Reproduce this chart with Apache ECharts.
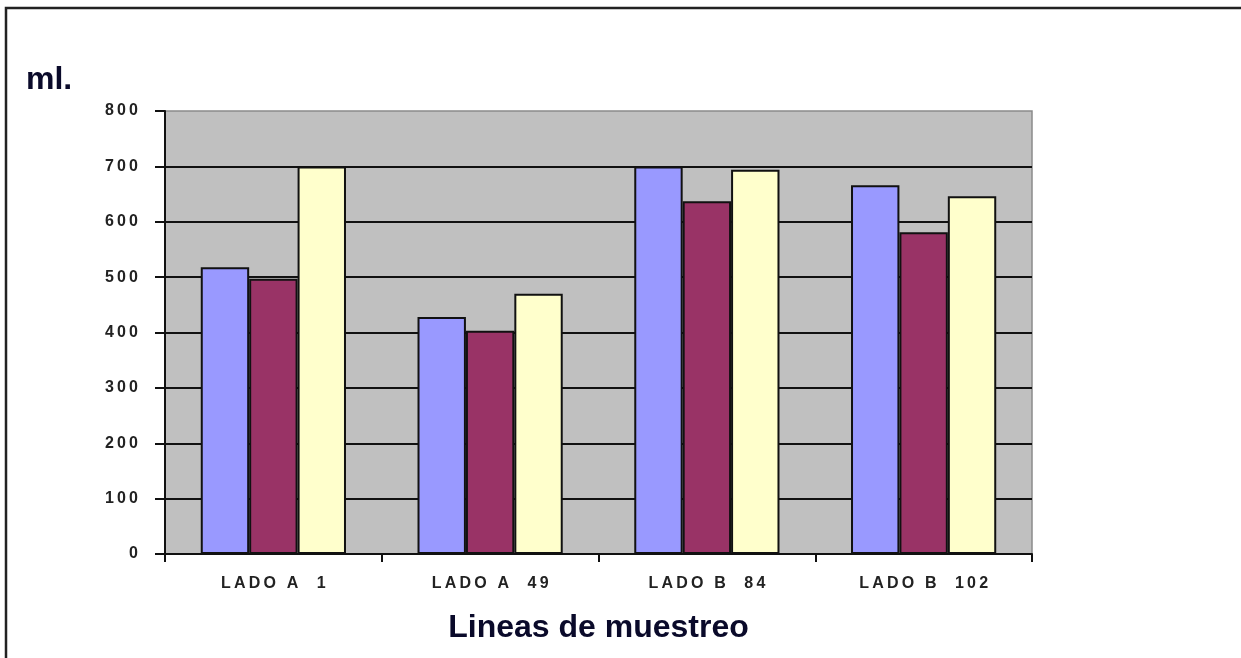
<!DOCTYPE html>
<html>
<head>
<meta charset="utf-8">
<script src="https://cdn.jsdelivr.net/npm/echarts@6/dist/echarts.min.js"></script>
<style>
  html, body { margin: 0; padding: 0; background: #ffffff; }
  #chart { width: 1241px; height: 658px; }
</style>
</head>
<body>
<div id="chart"></div>
<script>
// Sampling lines and measured volumes (ml.)
const categories = ['LADO A  1', 'LADO A  49', 'LADO B  84', 'LADO B  102'];
const serieBlue   = [518, 428, 700, 666];
const serieMaroon = [497, 403, 637, 581];
const serieYellow = [700, 470, 694, 646];
const yTicks = { min: 0, max: 800, interval: 100 };

const FONT = 'Arial, "Liberation Sans", sans-serif';
// widen glyph spacing the way the small chart font is drawn
const spaced = s => String(s).split('').join('\u2009');

const barBorder = { borderColor: '#111111', borderWidth: 2 };

const chart = echarts.init(document.getElementById('chart'), null, { renderer: 'canvas' });
chart.setOption({
  backgroundColor: '#ffffff',
  animation: false,
  title: {
    text: 'ml.',
    left: 21,
    top: 59,
    textStyle: { fontFamily: FONT, fontSize: 32, fontWeight: 'bold', color: '#0a0a2a' }
  },
  graphic: [{
    type: 'rect',
    shape: { x: 6, y: 8, width: 1300, height: 700 },
    style: { fill: 'none', stroke: '#222222', lineWidth: 2.5 },
    z: 100
  }],
  grid: {
    left: 165, right: 209, top: 111, bottom: 104,
    show: true,
    backgroundColor: '#C0C0C0',
    borderColor: '#8a8a8a',
    borderWidth: 1.5
  },
  xAxis: {
    type: 'category',
    data: categories,
    name: 'Lineas de muestreo',
    nameLocation: 'middle',
    nameGap: 58,
    nameTextStyle: { fontFamily: FONT, fontSize: 32, fontWeight: 'bold', color: '#0a0a2a' },
    axisLine: { lineStyle: { color: '#111111', width: 2 } },
    axisTick: { show: true, length: 8, lineStyle: { color: '#111111', width: 2 } },
    axisLabel: {
      margin: 22,
      fontFamily: FONT, fontSize: 16, fontWeight: 'bold', color: '#222222',
      formatter: v => spaced(v)
    },
    splitLine: { show: false }
  },
  yAxis: {
    type: 'value',
    min: yTicks.min, max: yTicks.max, interval: yTicks.interval,
    axisLine: { show: true, lineStyle: { color: '#111111', width: 2 } },
    axisTick: { show: true, length: 10, lineStyle: { color: '#111111', width: 2 } },
    axisLabel: {
      margin: 27,
      fontFamily: FONT, fontSize: 16, fontWeight: 'bold', color: '#222222',
      formatter: v => spaced(v)
    },
    splitLine: { show: true, showMaxLine: false, lineStyle: { color: '#111111', width: 2 } }
  },
  series: [
    { type: 'bar', data: serieBlue,   barGap: '0%', barCategoryGap: '33%', itemStyle: Object.assign({ color: '#9999FF' }, barBorder) },
    { type: 'bar', data: serieMaroon, barGap: '0%', barCategoryGap: '33%', itemStyle: Object.assign({ color: '#993366' }, barBorder) },
    { type: 'bar', data: serieYellow, barGap: '0%', barCategoryGap: '33%', itemStyle: Object.assign({ color: '#FFFFCC' }, barBorder) }
  ]
});
</script>
</body>
</html>
